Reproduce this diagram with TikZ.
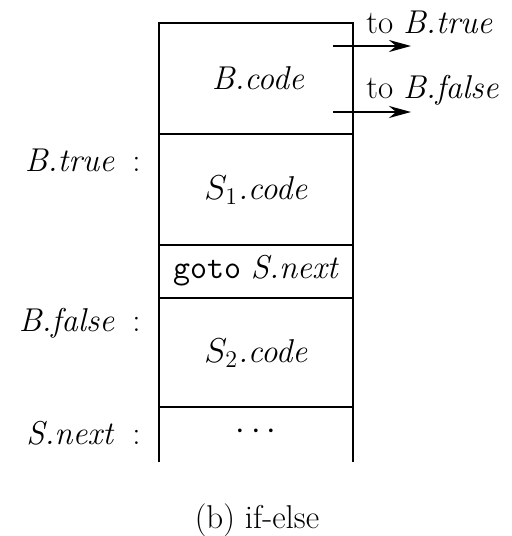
\documentclass[tikz,border=0pt]{standalone}
\usetikzlibrary{arrows.meta}
\begin{document}
\begin{tikzpicture}[x=0.5pt,y=-0.5pt,
  every node/.style={font=\fontsize{16.5}{19}\selectfont, inner sep=0pt},
  frame/.style={line width=1pt},
  jump/.style={line width=1pt, -{Stealth[length=11pt,width=6pt]}},
  lbl/.style={anchor=east},
  tolbl/.style={anchor=west}]
\useasboundingbox (0,0) rectangle (512,536);
% frame
\coordinate (tl) at (159,23);
\coordinate (tr) at (353,23);
\coordinate (bl) at (159,462);
\coordinate (br) at (353,462);
\draw[frame] (bl) -- (tl) -- (tr) -- (br);
\foreach \y in {134,245,298,407} \draw[frame] (159,\y) -- (353,\y);
% contents
\node (bcode) at (258,78) {\textit{B.code}};
\node (s1) at (256,190) {$S_1$\textit{.code}};
\node (gt) at (256,271) {\texttt{goto} \textit{S.next}};
\node (s2) at (256,353) {$S_2$\textit{.code}};
\node (dots) at (256,432) {$\cdots$};
% labels
\node[lbl] (lt) at (141,160) {\textit{B.true}\hspace{9pt}:};
\node[lbl] (lf) at (141,323) {\textit{B.false}\hspace{9pt}:};
\node[lbl] (ln) at (141,433) {\textit{S.next}\hspace{9pt}:};
% jumps
\coordinate (a1) at (333,46);
\coordinate (a1e) at (411,46);
\coordinate (a2) at (333,112);
\coordinate (a2e) at (411,112);
\draw[jump] (a1) -- (a1e);
\draw[jump] (a2) -- (a2e);
\node[tolbl] (tt) at (366,22) {to \textit{B.true}};
\node[tolbl] (tf) at (366,90) {to \textit{B.false}};
% caption
\node (cap) at (257,520) {(b) if-else};
\end{tikzpicture}
\end{document}
